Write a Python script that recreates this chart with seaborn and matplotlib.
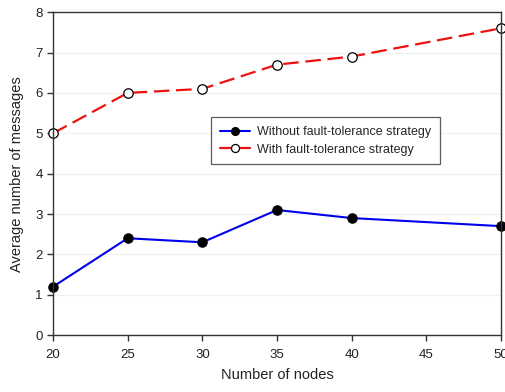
import matplotlib
matplotlib.use("Agg")
import matplotlib.pyplot as plt
import seaborn as sns
import pandas as pd

nodes = [20, 25, 30, 35, 40, 50]
without_ft = [1.2, 2.4, 2.3, 3.1, 2.9, 2.7]
with_ft = [5.0, 6.0, 6.1, 6.7, 6.9, 7.6]
label_without = "Without fault-tolerance strategy"
label_with = "With fault-tolerance strategy"

sns.set_style("white")
plt.rcParams['font.family'] = ['Liberation Sans', 'DejaVu Sans']

fig = plt.figure(figsize=(5.05, 3.92), dpi=100)
ax = fig.add_axes([0.105, 0.145, 0.887, 0.824])

df1 = pd.DataFrame({"x": nodes, "y": without_ft})
df2 = pd.DataFrame({"x": nodes, "y": with_ft})

sns.lineplot(data=df1, x="x", y="y", ax=ax, color="#0000ee", lw=1.5,
             marker="o", markersize=6.8, markerfacecolor="black",
             markeredgecolor="black", label=label_without, clip_on=False)
sns.lineplot(data=df2, x="x", y="y", ax=ax, color="#ee1111", lw=1.6,
             marker="o", markersize=6.8, markerfacecolor="white",
             markeredgecolor="black", markeredgewidth=0.9, label=label_with,
             clip_on=False)
ax.lines[1].set_linestyle((0, (7, 3)))

ax.set_xlim(20, 50)
ax.set_ylim(0, 8)
ax.set_xticks([20, 25, 30, 35, 40, 45, 50])
ax.set_yticks(range(0, 9))
ax.grid(axis="y", color="#f0f0f0", lw=0.8)
ax.set_axisbelow(True)
for s in ax.spines.values():
    s.set_color("#333333")
    s.set_linewidth(1.0)
ax.tick_params(axis="both", direction="out", length=4, width=1, colors="#333333",
               labelsize=9.5, labelcolor="#222222", bottom=True, left=True)
ax.tick_params(axis="x", pad=6)
ax.set_xlabel("Number of nodes", fontsize=10.5, labelpad=5, color="#222222")
ax.set_ylabel("Average number of messages", fontsize=10.5, labelpad=8, color="#222222")

handles, labels = ax.get_legend_handles_labels()
leg = ax.legend(handles, labels, loc="upper left", bbox_to_anchor=(0.353, 0.675),
                borderaxespad=0, fontsize=9, frameon=True, fancybox=False,
                edgecolor="#333333", handlelength=2.4, handletextpad=0.6,
                borderpad=0.7, labelspacing=0.45, markerscale=0.85)
leg.get_frame().set_linewidth(0.9)
for h in leg.legend_handles:
    h.set_linestyle("-")

fig.savefig("out.png", dpi=100)
